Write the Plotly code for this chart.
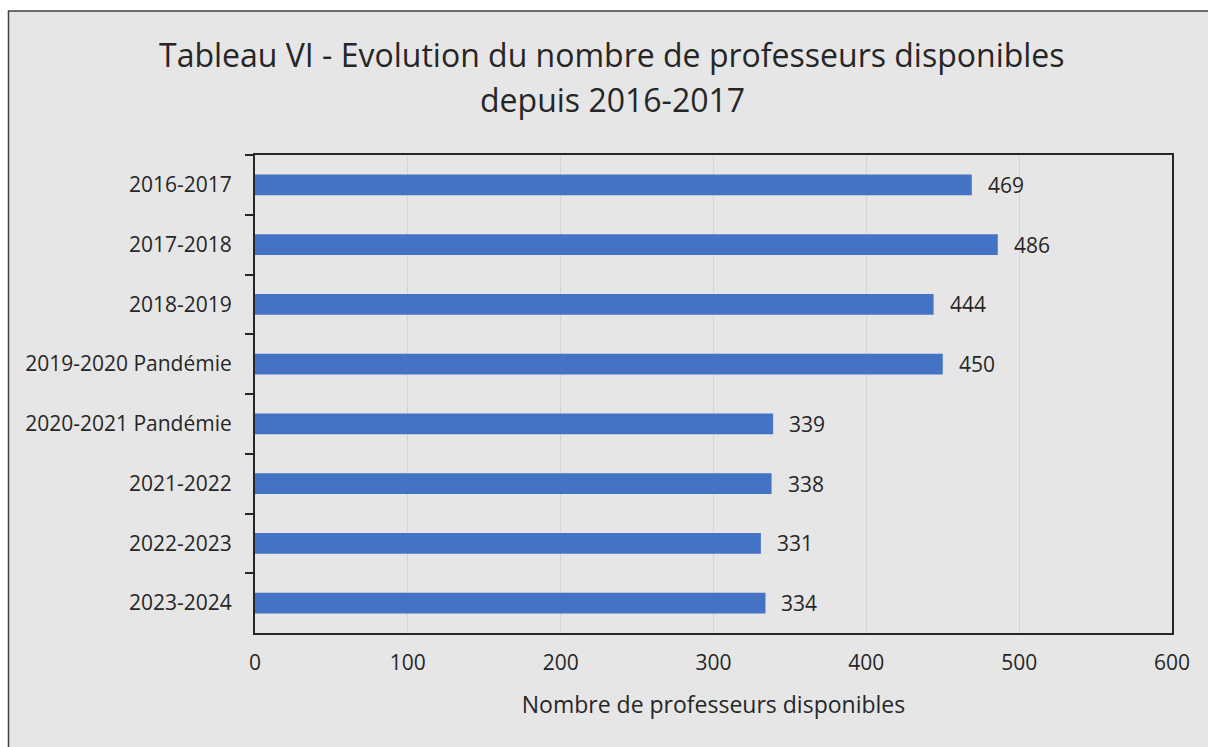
import plotly.graph_objects as go

categories = ["2016-2017", "2017-2018", "2018-2019", "2019-2020 Pandémie",
              "2020-2021 Pandémie", "2021-2022", "2022-2023", "2023-2024"]
values = [469, 486, 444, 450, 339, 338, 331, 334]
x_ticks = [0, 100, 200, 300, 400, 500, 600]

title_lines = ["Tableau VI - Evolution du nombre de professeurs disponibles",
               "depuis 2016-2017"]
x_title = "Nombre de professeurs disponibles"

FONT = "Open Sans"
TXT = "#262626"
BG = "#e6e6e6"

fig = go.Figure()
fig.add_trace(go.Bar(
    y=categories, x=values, orientation="h",
    marker=dict(color="#4472C4", line=dict(width=0)),
    hoverinfo="x+y",
))

for c, v in zip(categories, values):
    fig.add_annotation(x=v, y=c, text=str(v), showarrow=False,
                       xanchor="left", xshift=14,
                       font=dict(family=FONT, size=21, color=TXT))

W, H = 1208, 747
L, R, T, B = 255, 36, 155, 114
pw, ph = W - L - R, H - T - B


def px_to_paper_x(px):
    return (px - L) / pw


def px_to_paper_y(py):
    return (H - B - py) / ph


# outer chart frame
fig.add_shape(type="rect", xref="paper", yref="paper",
              x0=px_to_paper_x(8.5), x1=px_to_paper_x(W + 6),
              y0=px_to_paper_y(H + 6), y1=px_to_paper_y(11),
              fillcolor=BG, line=dict(color="#404040", width=1.5), layer="below")

# two-line title
for line, py in zip(title_lines, [54, 100]):
    fig.add_annotation(text=line, xref="paper", yref="paper",
                       x=px_to_paper_x(612), y=px_to_paper_y(py),
                       xanchor="center", yanchor="middle", showarrow=False,
                       font=dict(family=FONT, size=32, color=TXT))

fig.update_layout(
    width=W, height=H,
    margin=dict(l=L, r=R, t=T, b=B, pad=0),
    paper_bgcolor="white", plot_bgcolor=BG,
    bargap=0.65,
    showlegend=False,
    font=dict(family=FONT, color=TXT),
)
fig.update_xaxes(
    range=[0, 600], tickvals=x_ticks, ticks="", showgrid=True,
    gridcolor="#d4d4d4", gridwidth=1, zeroline=False,
    showline=True, linecolor="#262626", linewidth=2, mirror=True,
    tickfont=dict(family=FONT, size=21, color=TXT),
    ticklabelstandoff=10,
    title=dict(text=x_title, font=dict(family=FONT, size=23, color=TXT), standoff=22),
)
fig.update_yaxes(
    autorange="reversed", tickson="boundaries", ticks="outside", ticklen=8,
    tickcolor="#262626", tickwidth=2,
    showline=True, linecolor="#262626", linewidth=2, mirror=True,
    showgrid=False,
    tickfont=dict(family=FONT, size=21, color=TXT),
    ticklabelstandoff=17,
)

fig.write_html("out.html", config={"displayModeBar": False},
               post_script="document.body.style.margin='0';document.body.style.overflow='hidden';")
